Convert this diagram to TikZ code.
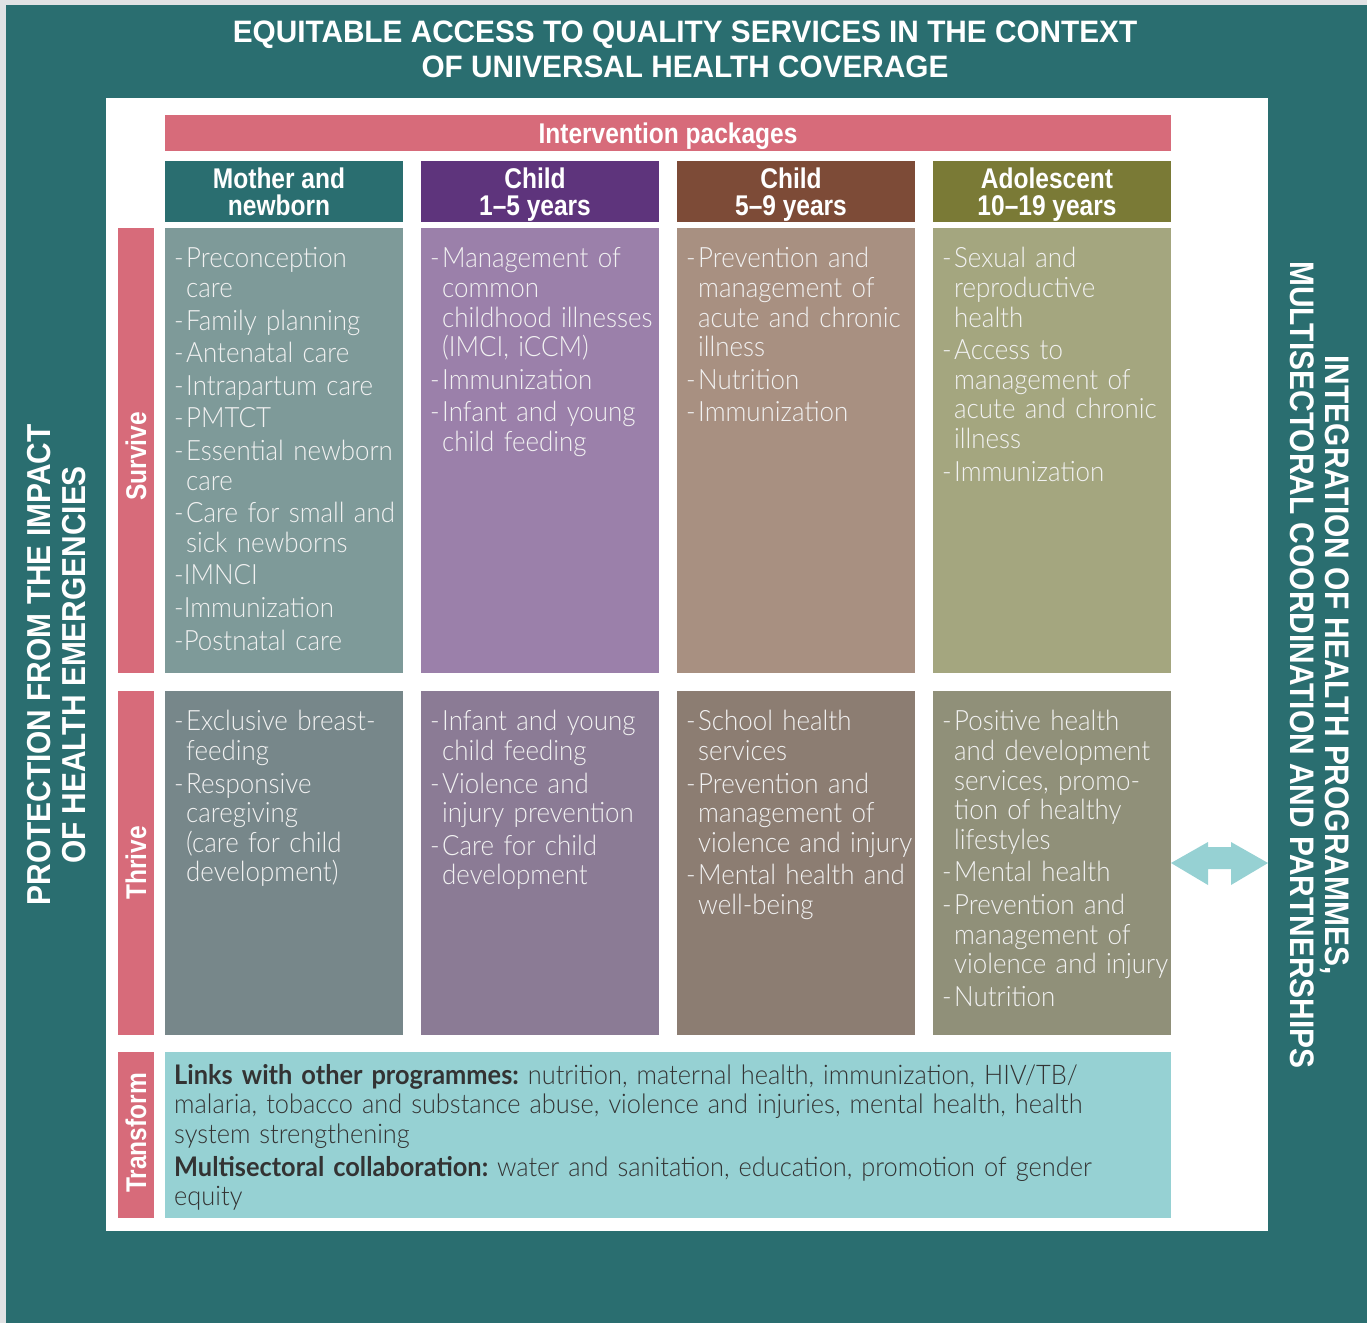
\documentclass[tikz,border=0pt]{standalone}
\usepackage{fontspec}
\setmainfont{Lato Light}[BoldFont={Lato Bold}]
\newfontfamily\bodyfont{Lato Light}[FakeStretch=0.925, BoldFont={Lato Bold}]
\newfontfamily\tffont{Lato Light}[FakeStretch=0.94, BoldFont={Lato Bold}]
\newfontfamily\condfont{Liberation Sans}[FakeStretch=0.86]
\newfontfamily\sidefont{Liberation Sans}[FakeStretch=0.90]
\newfontfamily\narrowfont{Liberation Sans}[FakeStretch=0.88]
\newfontfamily\titlefont{Liberation Sans}[FakeStretch=0.96]

\definecolor{edgegray}{HTML}{E1E2E4}
\definecolor{bandteal}{HTML}{2A6E70}
\definecolor{pinkbar}{HTML}{D76B7A}
\definecolor{hdA}{HTML}{2A6E70}
\definecolor{hdB}{HTML}{5E347C}
\definecolor{hdC}{HTML}{7D4B37}
\definecolor{hdD}{HTML}{7A7A36}
\definecolor{svA}{HTML}{7E9A99}
\definecolor{svB}{HTML}{9B80AA}
\definecolor{svC}{HTML}{A89081}
\definecolor{svD}{HTML}{A4A67F}
\definecolor{thA}{HTML}{77878A}
\definecolor{thB}{HTML}{8B7B95}
\definecolor{thC}{HTML}{8C7D72}
\definecolor{thD}{HTML}{909079}
\definecolor{tfcyan}{HTML}{96D1D3}
\definecolor{celltext}{HTML}{F2F2F2}
\definecolor{darktext}{HTML}{333333}

% list items: "- text" with hanging indent, "-text" without the space;
% \nl breaks a line inside an item, keeping the indent
\newlength\dashw
\setlength\dashw{12pt}
\newcommand\nl{\hfil\break}
\newcommand\itm[1]{\par\hangindent=\dashw\hangafter=1\noindent\strut\makebox[\dashw][l]{-}#1\par}
\newcommand\itmn[1]{\par\noindent\strut-#1\par}

\begin{document}
\frenchspacing
\begin{tikzpicture}[x=1pt,y=-1pt,
  block/.style={rectangle, inner sep=0pt, outer sep=0pt, anchor=north west},
  colhead/.style={text=white, align=center, font=\condfont\bfseries\fontsize{28.5}{27}\selectfont,
    execute at begin node=\strut, execute at end node=\strut},
  sidelabel/.style={rotate=90, text=white, font=\condfont\bfseries\fontsize{28.5}{30}\selectfont},
  celltxt/.style={anchor=north west, inner sep=0pt, text width=300pt, align=left, text=celltext,
    font=\bodyfont\fontsize{28}{29.6}\selectfont\setlength\parskip{3pt}\frenchspacing},
  bandtxt/.style={text=white, align=center},
]
\useasboundingbox (0,0) rectangle (1367,1323);

% frame and bands
\fill[edgegray] (0,0) rectangle (1367,1323);
\fill[bandteal] (6,5) rectangle (1367,1323);
\node[block, fill=white, minimum width=1162pt, minimum height=1133pt] (panel) at (106,98) {};

\node[bandtxt, font=\titlefont\bfseries\fontsize{31}{35}\selectfont] (title) at (685,49)
  {EQUITABLE ACCESS TO QUALITY SERVICES IN THE CONTEXT\\OF UNIVERSAL HEALTH COVERAGE};
\node[bandtxt, rotate=90, font=\sidefont\bfseries\fontsize{33.2}{35}\selectfont] (leftband) at (57,665)
  {PROTECTION FROM THE IMPACT\\OF HEALTH EMERGENCIES};
\node[bandtxt, rotate=-90, font=\narrowfont\bfseries\fontsize{34}{35}\selectfont] (rightband) at (1320,665)
  {INTEGRATION OF HEALTH PROGRAMMES,\\MULTISECTORAL COORDINATION AND PARTNERSHIPS};

% header row
\node[block, fill=pinkbar, minimum width=1006pt, minimum height=36pt] (packages) at (165,115) {};
\node[text=white, font=\condfont\bfseries\fontsize{28.5}{30}\selectfont]
  at ([yshift=-3pt]packages.center) {Intervention packages};

\node[block, fill=hdA, minimum width=238pt, minimum height=61pt] (hA) at (165,161) {};
\node[block, fill=hdB, minimum width=238pt, minimum height=61pt] (hB) at (421,161) {};
\node[block, fill=hdC, minimum width=238pt, minimum height=61pt] (hC) at (677,161) {};
\node[block, fill=hdD, minimum width=238pt, minimum height=61pt] (hD) at (933,161) {};
\node[colhead] at ([shift={(-5pt,-4pt)}]hA.center) {Mother and\\newborn};
\node[colhead] at ([shift={(-5pt,-4pt)}]hB.center) {Child\\1–5 years};
\node[colhead] at ([shift={(-5pt,-4pt)}]hC.center) {Child\\5–9 years};
\node[colhead] at ([shift={(-5pt,-4pt)}]hD.center) {Adolescent\\10–19 years};

% row labels
\node[block, fill=pinkbar, minimum width=36pt, minimum height=445pt] (lsurvive) at (118,228) {};
\node[block, fill=pinkbar, minimum width=36pt, minimum height=344pt] (lthrive) at (118,691) {};
\node[block, fill=pinkbar, minimum width=36pt, minimum height=166pt] (ltransform) at (118,1052) {};
\node[sidelabel] at ([yshift=-6pt]lsurvive.center) {Survive};
\node[sidelabel] at (lthrive.center) {Thrive};
\node[sidelabel] at ([yshift=2pt]ltransform.center) {Transform};

% survive row
\node[block, fill=svA, minimum width=238pt, minimum height=445pt] (sA) at (165,228) {};
\node[block, fill=svB, minimum width=238pt, minimum height=445pt] (sB) at (421,228) {};
\node[block, fill=svC, minimum width=238pt, minimum height=445pt] (sC) at (677,228) {};
\node[block, fill=svD, minimum width=238pt, minimum height=445pt] (sD) at (933,228) {};

\node[celltxt] at ([shift={(9pt,-7pt)}]sA.north west) {%
\itm{Preconception\nl care}
\itm{Family planning}
\itm{Antenatal care}
\itm{Intrapartum care}
\itm{PMTCT}
\itm{Essential newborn\nl care}
\itm{Care for small and\nl sick newborns}
\itmn{IMNCI}
\itmn{Immunization}
\itmn{Postnatal care}};

\node[celltxt] at ([shift={(9pt,-7pt)}]sB.north west) {%
\itm{Management of\nl common\nl childhood illnesses\nl (IMCI, iCCM)}
\itm{Immunization}
\itm{Infant and young\nl child feeding}};

\node[celltxt] at ([shift={(9pt,-7pt)}]sC.north west) {%
\itm{Prevention and\nl management of\nl acute and chronic\nl illness}
\itm{Nutrition}
\itm{Immunization}};

\node[celltxt] at ([shift={(9pt,-7pt)}]sD.north west) {%
\itm{Sexual and\nl reproductive\nl health}
\itm{Access to\nl management of\nl acute and chronic\nl illness}
\itm{Immunization}};

% thrive row
\node[block, fill=thA, minimum width=238pt, minimum height=344pt] (tA) at (165,691) {};
\node[block, fill=thB, minimum width=238pt, minimum height=344pt] (tB) at (421,691) {};
\node[block, fill=thC, minimum width=238pt, minimum height=344pt] (tC) at (677,691) {};
\node[block, fill=thD, minimum width=238pt, minimum height=344pt] (tD) at (933,691) {};

\node[celltxt] at ([shift={(9pt,-7pt)}]tA.north west) {%
\itm{Exclusive breast-\nl feeding}
\itm{Responsive\nl caregiving\nl (care for child\nl development)}};

\node[celltxt] at ([shift={(9pt,-7pt)}]tB.north west) {%
\itm{Infant and young\nl child feeding}
\itm{Violence and\nl injury prevention}
\itm{Care for child\nl development}};

\node[celltxt] at ([shift={(9pt,-7pt)}]tC.north west) {%
\itm{School health\nl services}
\itm{Prevention and\nl management of\nl violence and injury}
\itm{Mental health and\nl well-being}};

\node[celltxt] at ([shift={(9pt,-7pt)}]tD.north west) {%
\itm{Positive health\nl and development\nl services, promo-\nl tion of healthy\nl lifestyles}
\itm{Mental health}
\itm{Prevention and\nl management of\nl violence and injury}
\itm{Nutrition}};

% transform row
\node[block, fill=tfcyan, minimum width=1006pt, minimum height=166pt] (tf) at (165,1052) {};
\node[celltxt, text=darktext, text width=1000pt,
  font=\tffont\fontsize{27}{29.5}\selectfont\setlength\parskip{3.5pt}\frenchspacing]
  at ([shift={(9pt,1pt)}]tf.north west) {%
\par\noindent\strut\textbf{Links with other programmes:} nutrition, maternal health, immunization, HIV/TB/\nl
malaria, tobacco and substance abuse, violence and injuries, mental health, health\nl
system strengthening
\par\noindent\strut\textbf{Multisectoral collaboration:} water and sanitation, education, promotion of gender\nl
equity\par};

% two-way arrow between the adolescent column and the partnerships band
\coordinate (al) at (tD.east |- 0,863);
\coordinate (ar) at (panel.east |- 0,863);
\fill[tfcyan] (al) -- ++(37,-21) -- ++(0,5) -- ++(23,0) -- ++(0,-5) -- (ar)
  -- ++(-37,22) -- ++(0,-16) -- ++(-23,0) -- ++(0,16) -- cycle;
\end{tikzpicture}
\end{document}
